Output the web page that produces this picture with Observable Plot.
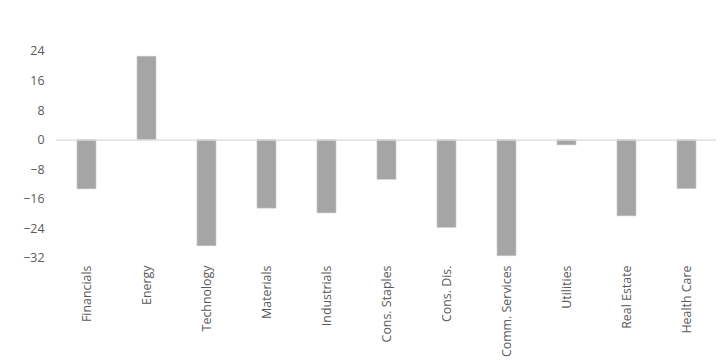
<!DOCTYPE html>
<html>
<head>
<meta charset="utf-8">
<script src="https://cdn.jsdelivr.net/npm/d3@7"></script>
<script src="https://cdn.jsdelivr.net/npm/@observablehq/plot@0.6"></script>
<style>
  html, body { margin: 0; padding: 0; background: #fff; }
  #chart svg { display: block; }
</style>
</head>
<body>
<div id="chart"></div>
<script>
const categories = ["Financials", "Energy", "Technology", "Materials", "Industrials", "Cons. Staples", "Cons. Dis.", "Comm. Services", "Utilities", "Real Estate", "Health Care"];
const values = [-13.3, 22.6, -28.7, -18.5, -19.8, -10.7, -23.7, -31.4, -1.4, -20.6, -13.2];
const yTicks = [-32, -24, -16, -8, 0, 8, 16, 24];

const data = categories.map((c, i) => ({category: c, value: values[i]}));

const chart = Plot.plot({
  width: 723,
  height: 360,
  marginTop: 51,
  marginBottom: 102,
  marginLeft: 56,
  marginRight: 7,
  style: {fontFamily: "'Open Sans', sans-serif", fontSize: "12.4px", color: "#595959", background: "#fff"},
  x: {domain: categories, paddingInner: 0.69, paddingOuter: 0.345},
  y: {domain: [-32, 24]},
  marks: [
    Plot.barY(data, {x: "category", y: "value", fill: "#a5a5a5", stroke: "#c8c8c8", strokeWidth: 0.6}),
    Plot.ruleY([0], {stroke: "#d9d9d9", strokeWidth: 1.2}),
    Plot.axisY({ticks: yTicks, tickSize: 0, tickPadding: 12, label: null, fill: "#595959"}),
    Plot.axisX({tickRotate: -90, tickSize: 0, tickPadding: 7, label: null, fill: "#595959"})
  ]
});
document.getElementById("chart").appendChild(chart);
</script>
</body>
</html>
